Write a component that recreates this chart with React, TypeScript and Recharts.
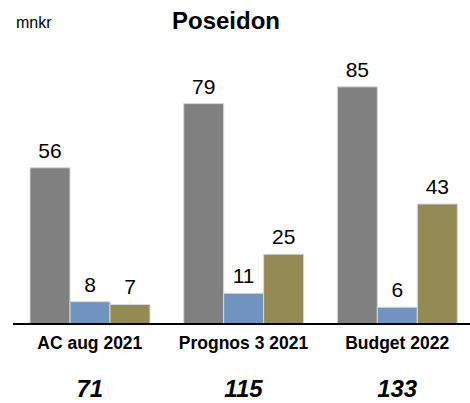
import { BarChart, Bar, XAxis, YAxis, LabelList } from 'recharts'

// värden (mnkr)
const categories = ['AC aug 2021', 'Prognos 3 2021', 'Budget 2022']
const grayValues = [56, 79, 85]
const blueValues = [8, 11, 6]
const oliveValues = [7, 25, 43]
const totals = [71, 115, 133]

const FONT = '"Liberation Sans", Arial, sans-serif'

const data = categories.map((name, i) => ({
  name,
  gray: grayValues[i],
  blue: blueValues[i],
  olive: oliveValues[i],
  total: totals[i],
}))

function CategoryTick(props: any) {
  const { x, y, payload, index } = props
  return (
    <g>
      <text
        x={x}
        y={y + 25}
        textAnchor="middle"
        fontFamily={FONT}
        fontSize={17.5}
        fontWeight="bold"
        fill="#000"
      >
        {payload.value}
      </text>
      <text
        x={x}
        y={y + 73}
        textAnchor="middle"
        fontFamily={FONT}
        fontSize={24}
        fontWeight="bold"
        fontStyle="italic"
        fill="#000"
      >
        {totals[index]}
      </text>
    </g>
  )
}

export default function App() {
  return (
    <div
      style={{
        position: 'absolute',
        left: 0,
        top: 0,
        width: 470,
        height: 403,
        overflow: 'hidden',
        background: '#fff',
      }}
    >
      <BarChart
        width={476}
        height={403}
        data={data}
        margin={{ top: 45, right: 2, left: 13, bottom: 0 }}
        barSize={40}
        barGap={0}
      >
        <YAxis hide domain={[0, 100]} />
        <XAxis
          dataKey="name"
          axisLine={{ stroke: '#000', strokeWidth: 2 }}
          tickLine={false}
          tickSize={0}
          tickMargin={0}
          height={79}
          interval={0}
          tick={<CategoryTick />}
        />
        <Bar dataKey="gray" fill="#808080" stroke="#d9d9d9" strokeWidth={1} isAnimationActive={false}>
          <LabelList dataKey="gray" position="top" offset={10} fill="#000" fontSize={21} fontFamily={FONT} />
        </Bar>
        <Bar dataKey="blue" fill="#7093BF" stroke="#d9d9d9" strokeWidth={1} isAnimationActive={false}>
          <LabelList dataKey="blue" position="top" offset={10} fill="#000" fontSize={21} fontFamily={FONT} />
        </Bar>
        <Bar dataKey="olive" fill="#948A54" stroke="#d9d9d9" strokeWidth={1} isAnimationActive={false}>
          <LabelList dataKey="olive" position="top" offset={10} fill="#000" fontSize={21} fontFamily={FONT} />
        </Bar>
      </BarChart>
      <svg width={470} height={50} style={{ position: 'absolute', left: 0, top: 0 }}>
        <text x={16} y={28} fontFamily={FONT} fontSize={16} fill="#000">
          mnkr
        </text>
        <text x={226} y={29} textAnchor="middle" fontFamily={FONT} fontSize={24} fontWeight="bold" fill="#000">
          Poseidon
        </text>
      </svg>
    </div>
  )
}
